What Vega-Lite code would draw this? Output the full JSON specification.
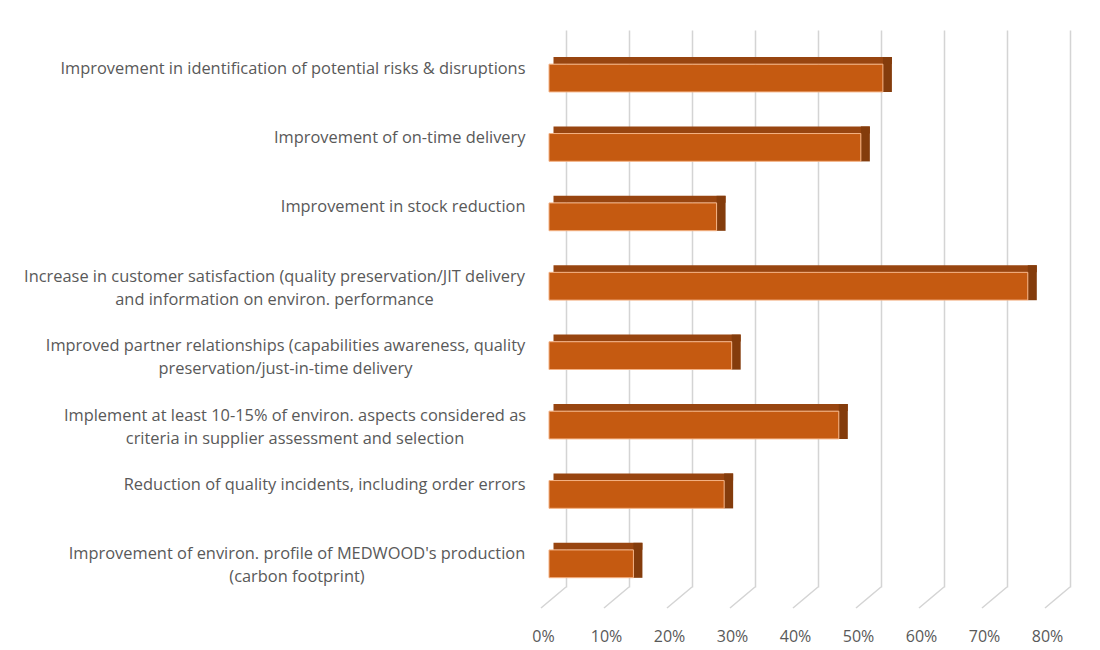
{
  "$schema": "https://vega.github.io/schema/vega-lite/v6.json",
  "width": 504,
  "height": 557,
  "autosize": {"type": "none"},
  "padding": {"left": 566, "top": 30, "right": 30, "bottom": 63},
  "background": "white",
  "config": {"view": {"stroke": null}, "font": "Open Sans"},
  "datasets": {
    "bars": [
      {"item": "Improvement in identification of potential risks & disruptions", "value": 0.53},
      {"item": "Improvement of on-time delivery", "value": 0.495},
      {"item": "Improvement in stock reduction", "value": 0.266},
      {"item": "Increase in customer satisfaction (quality preservation/JIT delivery\nand information on environ. performance", "value": 0.76},
      {"item": "Improved partner relationships (capabilities awareness, quality\npreservation/just-in-time delivery", "value": 0.29},
      {"item": "Implement at least 10-15% of environ. aspects considered as\ncriteria in supplier assessment and selection", "value": 0.46},
      {"item": "Reduction of quality incidents, including order errors", "value": 0.278},
      {"item": "Improvement of environ. profile of MEDWOOD's production\n(carbon footprint)", "value": 0.134}
    ],
    "ticks": [
      {"value": 0}, {"value": 0.1}, {"value": 0.2}, {"value": 0.3}, {"value": 0.4},
      {"value": 0.5}, {"value": 0.6}, {"value": 0.7}, {"value": 0.8}
    ]
  },
  "layer": [
    {
      "data": {"name": "ticks"},
      "mark": {"type": "rule", "color": "#D4D4D4", "strokeWidth": 1.5, "x2Offset": -25, "y2Offset": 21},
      "encoding": {
        "x": {
          "field": "value", "type": "quantitative",
          "scale": {"domain": [0, 0.8], "nice": false, "zero": true},
          "axis": {
            "title": null, "values": [0, 0.1, 0.2, 0.3, 0.4, 0.5, 0.6, 0.7, 0.8], "format": ".0%",
            "grid": true, "gridColor": "#D4D4D4", "gridWidth": 1.5,
            "domain": false, "ticks": false,
            "labelFont": "Open Sans", "labelFontSize": 16, "labelColor": "#595959",
            "labelOffset": -23, "labelPadding": 49, "labelBaseline": "middle", "labelFlush": false
          }
        },
        "x2": {"field": "value"},
        "y": {"value": "height"},
        "y2": {"value": "height"}
      }
    },
    {
      "data": {"name": "bars"},
      "mark": {"type": "bar", "color": "#984510", "height": 7, "yOffset": -17.5, "xOffset": -8, "x2Offset": -12.5},
      "encoding": {
        "y": {
          "field": "item", "type": "nominal", "sort": null,
          "scale": {"paddingInner": 0.6, "paddingOuter": 0.313, "align": 0.786},
          "axis": {
            "title": null, "domain": false, "ticks": false, "grid": false,
            "labelExpr": "split(datum.value, '\\n')",
            "labelFont": "Open Sans", "labelFontSize": 16.4, "labelColor": "#595959",
            "labelLimit": 1000, "labelLineHeight": 23, "labelOffset": -9.5,
            "labelAlign": {"condition": {"test": "indexof(datum.value, '\\n') >= 0", "value": "center"}, "value": "right"},
            "labelPadding": {"condition": [
              {"test": "indexof(datum.value, 'Increase') == 0", "value": 292},
              {"test": "indexof(datum.value, 'Improved partner') == 0", "value": 281},
              {"test": "indexof(datum.value, 'Implement at') == 0", "value": 271.5},
              {"test": "indexof(datum.value, 'MEDWOOD') >= 0", "value": 269.5}
            ], "value": 41}
          }
        },
        "x": {"field": "value", "type": "quantitative"},
        "x2": {"datum": 0}
      }
    },
    {
      "data": {"name": "bars"},
      "mark": {"type": "bar", "color": "#843C0C", "height": 35, "yOffset": -3.5, "xOffset": -8, "x2Offset": -17},
      "encoding": {
        "y": {"field": "item", "type": "nominal", "sort": null},
        "x": {"field": "value", "type": "quantitative"},
        "x2": {"field": "value"}
      }
    },
    {
      "data": {"name": "bars"},
      "mark": {"type": "bar", "color": "#C55A11", "stroke": "#F4B183", "strokeWidth": 1, "xOffset": -17, "x2Offset": -17},
      "encoding": {
        "y": {"field": "item", "type": "nominal", "sort": null},
        "x": {"field": "value", "type": "quantitative"},
        "x2": {"datum": 0}
      }
    }
  ]
}
